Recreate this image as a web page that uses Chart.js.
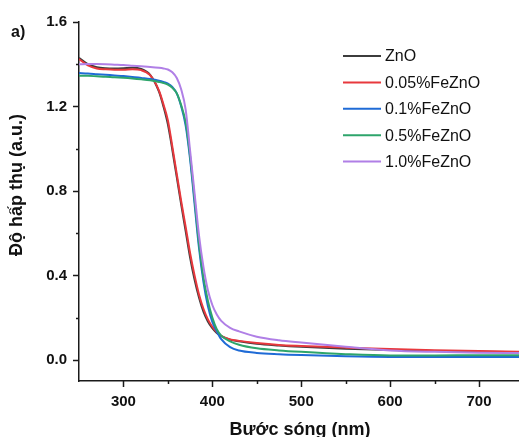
<!DOCTYPE html>
<html>
<head>
<meta charset="utf-8">
<script src="https://cdn.jsdelivr.net/npm/chart.js@4.4.1/dist/chart.umd.min.js"></script>
<style>
  body { margin: 0; background: #fff; }
</style>
</head>
<body>
<canvas id="chartUv" width="519" height="437"></canvas>
<script>
// wavelength grid (nm)
var wavelengths = [250, 260, 270, 280, 290, 300, 310, 320, 330, 340, 345, 350, 355, 360, 365, 370, 375, 380, 385, 390, 395, 400, 405, 410, 420, 430, 450, 475, 500, 550, 600, 650, 700, 745];

var seriesNames = ['ZnO', '0.05%FeZnO', '0.1%FeZnO', '0.5%FeZnO', '1.0%FeZnO'];
var seriesColors = ['#3c3c3c', '#e8383d', '#1f6bd6', '#2ea56b', '#b07fe6'];

var absZnO = [1.430, 1.400, 1.386, 1.381, 1.380, 1.381, 1.383, 1.378, 1.350, 1.270, 1.200, 1.115, 0.995, 0.865, 0.735, 0.610, 0.485, 0.380, 0.295, 0.228, 0.182, 0.150, 0.127, 0.112, 0.096, 0.088, 0.076, 0.068, 0.062, 0.053, 0.047, 0.042, 0.039, 0.036];
var abs005 = [1.425, 1.395, 1.380, 1.376, 1.374, 1.374, 1.376, 1.372, 1.348, 1.275, 1.210, 1.134, 1.010, 0.880, 0.750, 0.630, 0.505, 0.400, 0.310, 0.242, 0.192, 0.157, 0.132, 0.114, 0.097, 0.090, 0.080, 0.071, 0.066, 0.058, 0.051, 0.046, 0.042, 0.039];
var abs01 = [1.358, 1.356, 1.353, 1.350, 1.347, 1.344, 1.340, 1.335, 1.330, 1.322, 1.316, 1.308, 1.292, 1.262, 1.200, 1.110, 0.950, 0.740, 0.530, 0.370, 0.255, 0.180, 0.135, 0.098, 0.060, 0.044, 0.033, 0.027, 0.023, 0.017, 0.014, 0.014, 0.014, 0.014];
var abs05 = [1.346, 1.345, 1.343, 1.341, 1.338, 1.336, 1.333, 1.329, 1.324, 1.316, 1.311, 1.303, 1.288, 1.262, 1.205, 1.125, 0.965, 0.760, 0.550, 0.390, 0.280, 0.200, 0.145, 0.115, 0.088, 0.072, 0.055, 0.045, 0.038, 0.027, 0.021, 0.021, 0.022, 0.022];
var abs10 = [1.400, 1.401, 1.401, 1.400, 1.398, 1.396, 1.393, 1.390, 1.387, 1.383, 1.380, 1.375, 1.362, 1.335, 1.280, 1.185, 0.990, 0.790, 0.590, 0.440, 0.330, 0.260, 0.215, 0.185, 0.152, 0.135, 0.110, 0.093, 0.082, 0.062, 0.045, 0.038, 0.034, 0.032];

var allSeries = [absZnO, abs005, abs01, abs05, abs10];

var FONT = '"Liberation Sans", Arial, sans-serif';

var datasets = allSeries.map(function (vals, i) {
    return {
        label: seriesNames[i],
        data: vals.map(function (v, k) { return { x: wavelengths[k], y: v }; }),
        borderColor: seriesColors[i],
        backgroundColor: seriesColors[i],
        borderWidth: 2,
        pointRadius: 0,
        cubicInterpolationMode: 'monotone',
        order: allSeries.length - 1 - i  // later series on top
    };
});

function isLabelled(v, step) {
    var r = v / step;
    return Math.abs(r - Math.round(r)) < 1e-6;
}

// tick marks, axis titles, legend and panel letter
var decorations = {
    id: 'decorations',
    afterDraw: function (chart) {
        var c = chart.ctx;
        var xs = chart.scales.x, ys = chart.scales.y;
        var area = chart.chartArea;
        c.save();
        c.strokeStyle = '#1a1a1a';
        c.lineWidth = 1.5;
        ys.ticks.forEach(function (t) {
            var py = Math.round(ys.getPixelForValue(t.value)) + 0.5;
            var len = isLabelled(t.value, 0.4) ? 6 : 3;
            c.beginPath();
            c.moveTo(area.left, py);
            c.lineTo(area.left - len, py);
            c.stroke();
        });
        xs.ticks.forEach(function (t) {
            if (t.value <= xs.min) return;
            var px = Math.round(xs.getPixelForValue(t.value)) + 0.5;
            var len = isLabelled(t.value, 100) ? 6 : 3;
            c.beginPath();
            c.moveTo(px, area.bottom);
            c.lineTo(px, area.bottom + len);
            c.stroke();
        });

        c.fillStyle = '#111';
        c.font = 'bold 18px ' + FONT;
        c.textAlign = 'center';
        c.textBaseline = 'alphabetic';
        c.fillText('Bước sóng (nm)', 300, 435);

        c.save();
        c.translate(22, 185);
        c.rotate(-Math.PI / 2);
        c.fillText('Độ hấp thụ (a.u.)', 0, 0);
        c.restore();

        c.textAlign = 'left';
        c.font = 'bold 16px ' + FONT;
        c.fillText('a)', 11, 37);

        // legend
        c.font = '16px ' + FONT;
        c.textBaseline = 'middle';
        chart.data.datasets.forEach(function (ds, i) {
            var ry = 56 + i * 26.4;
            c.strokeStyle = ds.borderColor;
            c.lineWidth = 2;
            c.beginPath();
            c.moveTo(343, ry);
            c.lineTo(381, ry);
            c.stroke();
            c.fillStyle = '#111';
            c.fillText(ds.label, 385, ry + 1);
        });
        c.restore();
    }
};

var ctx = document.getElementById('chartUv').getContext('2d');

var myChart = new Chart(ctx, {
    type: 'line',
    data: { datasets: datasets },
    plugins: [decorations],
    options: {
        responsive: false,
        animation: false,
        layout: { padding: { top: 22, right: 0, left: 0, bottom: 0 } },
        plugins: {
            legend: { display: false },
            tooltip: { enabled: false }
        },
        scales: {
            x: {
                type: 'linear',
                min: 250,
                max: 745,
                afterFit: function (scale) { scale.height = 56; },
                border: { display: true, color: '#1a1a1a', width: 1.5 },
                grid: { display: true, drawOnChartArea: false, drawTicks: true, tickLength: 6, color: 'rgba(0,0,0,0)' },
                ticks: {
                    stepSize: 50,
                    includeBounds: false,
                    maxRotation: 0,
                    autoSkip: false,
                    padding: 6,
                    color: '#111',
                    font: { family: FONT, size: 15, weight: 'bold' },
                    callback: function (v) { return isLabelled(v, 100) ? String(v) : ''; }
                }
            },
            y: {
                min: -0.1,
                max: 1.6,
                afterFit: function (scale) { scale.width = 79; },
                border: { display: true, color: '#1a1a1a', width: 1.5 },
                grid: { display: true, drawOnChartArea: false, drawTicks: true, tickLength: 6, color: 'rgba(0,0,0,0)' },
                ticks: {
                    stepSize: 0.2,
                    includeBounds: false,
                    autoSkip: false,
                    padding: 6,
                    color: '#111',
                    font: { family: FONT, size: 15, weight: 'bold' },
                    callback: function (v) { return isLabelled(v, 0.4) ? v.toFixed(1) : ''; }
                }
            }
        }
    }
});
</script>
</body>
</html>
